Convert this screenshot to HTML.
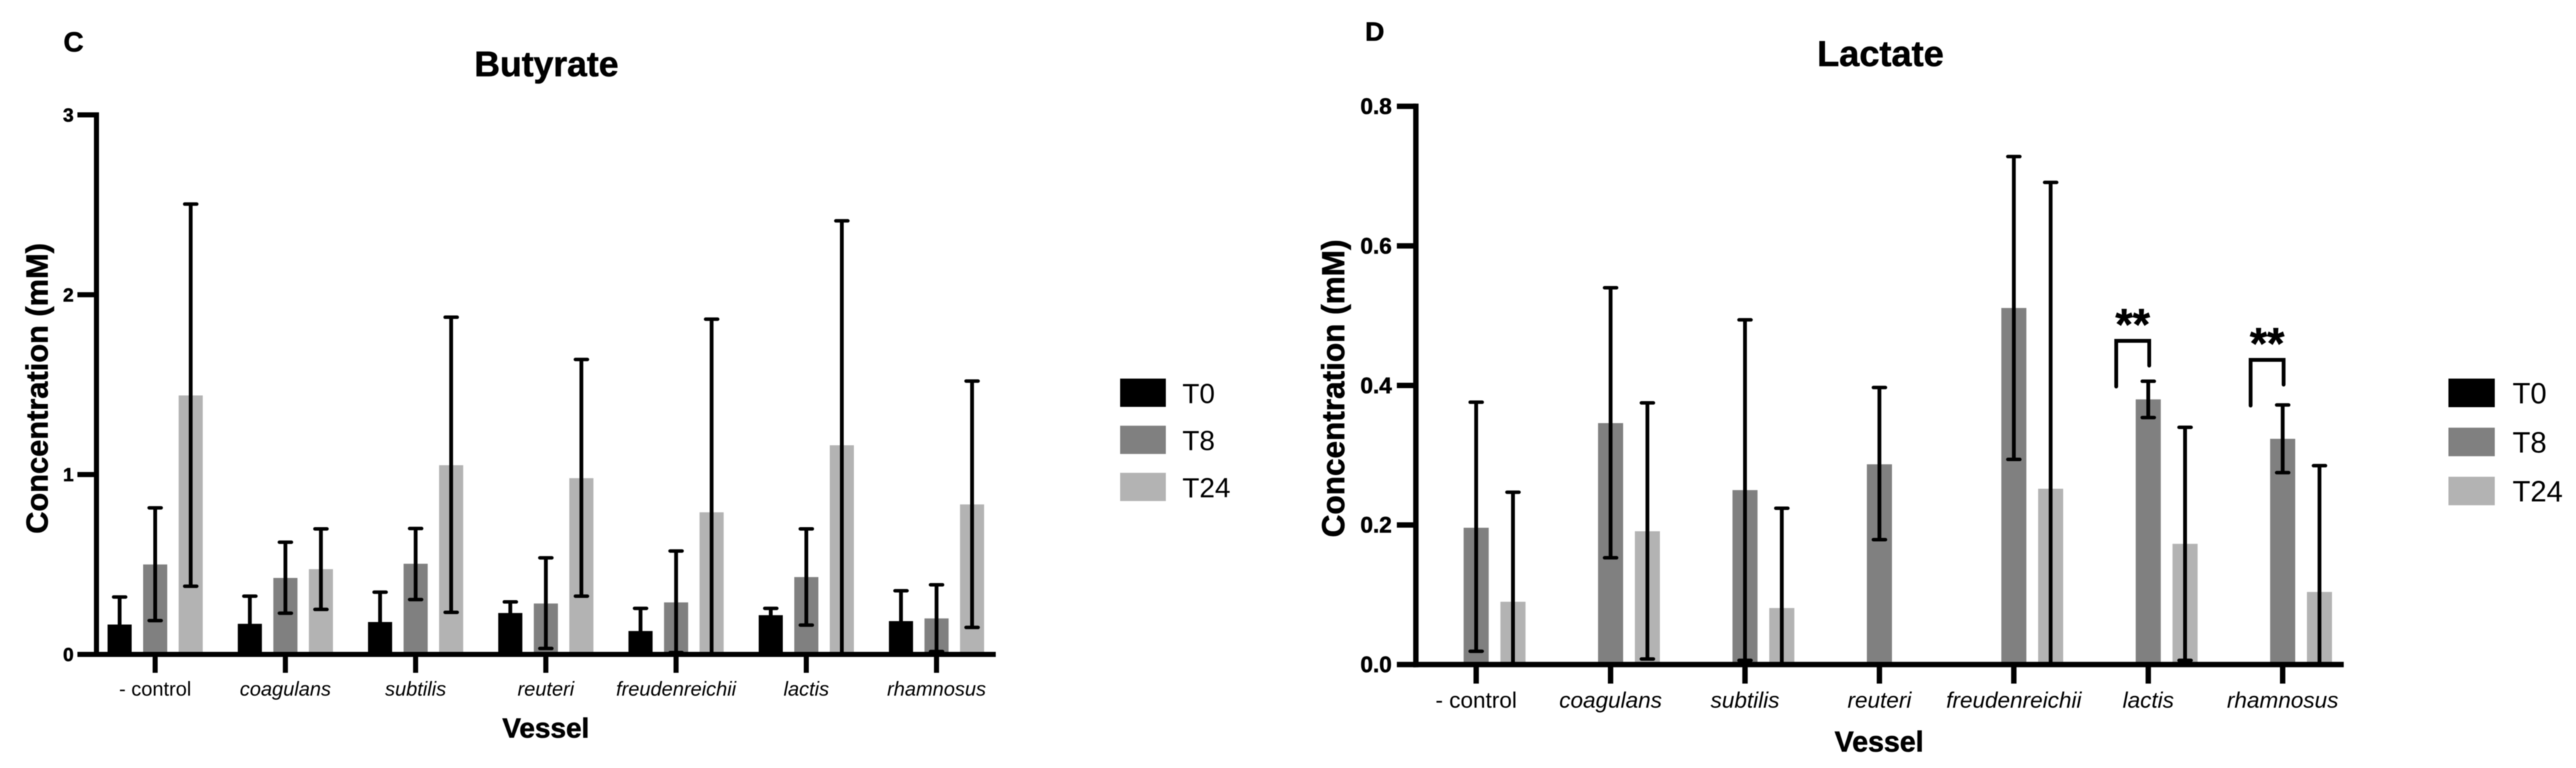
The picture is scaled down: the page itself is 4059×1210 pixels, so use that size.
<!DOCTYPE html>
<html lang="en">
<head>
<meta charset="utf-8">
<title>Butyrate and Lactate concentration by vessel</title>
<style>
html,body{margin:0;padding:0;background:#fff;width:4059px;height:1210px;overflow:hidden}
svg{display:block;filter:blur(0.7px)}
text{font-family:"Liberation Sans",Arial,sans-serif;fill:#000}
text.heavy{stroke:#000;stroke-width:0.8px}
</style>
</head>
<body>
<svg id="figure" xmlns="http://www.w3.org/2000/svg" width="4059" height="1210" viewBox="0 0 4059 1210"></svg>
<script>
const categories = ['- control','coagulans','subtilis','reuteri','freudenreichii','lactis','rhamnosus'];
const seriesNames = ['T0','T8','T24'];

const butyrateTicks = ['0','1','2','3'];
const butyrateT0 = [0.166,0.17,0.18,0.23,0.13,0.218,0.185];
const butyrateT8 = [0.50,0.425,0.504,0.283,0.289,0.43,0.20];
const butyrateT24 = [1.44,0.474,1.052,0.98,0.79,1.163,0.834];
const butyrateT0Hi = [0.319,0.324,0.346,0.292,0.256,0.256,0.354];
const butyrateT8Hi = [0.815,0.624,0.70,0.537,0.575,0.698,0.387];
const butyrateT24Hi = [2.504,0.698,1.875,1.64,1.864,2.411,1.52];
const butyrateT0Lo = [0.013,0.016,0.014,0.168,0.004,0.18,0.016];
const butyrateT8Lo = [0.188,0.229,0.305,0.033,0.01,0.163,0.016];
const butyrateT24Lo = [0.379,0.25,0.234,0.324,0,0,0.15];

const lactateTicks = ['0.0','0.2','0.4','0.6','0.8'];
const lactateT0 = [0,0,0,0,0,0,0];
const lactateT8 = [0.196,0.346,0.25,0.287,0.511,0.38,0.3235];
const lactateT24 = [0.09,0.191,0.081,0,0.252,0.173,0.104];
const lactateT0Hi = [0,0,0,0,0,0,0];
const lactateT8Hi = [0.376,0.54,0.494,0.397,0.728,0.406,0.372];
const lactateT24Hi = [0.247,0.375,0.224,0,0.691,0.34,0.285];
const lactateT0Lo = [0,0,0,0,0,0,0];
const lactateT8Lo = [0.019,0.153,0.006,0.179,0.294,0.354,0.275];
const lactateT24Lo = [0,0.008,0,0,0,0.006,0];

const lactateSigCategories = ['lactis','rhamnosus'];
const lactateSigLabels = ['**','**'];
const lactateSigTop = [0.4639,0.4366];

const svg = document.getElementById('figure');
const NS = 'http://www.w3.org/2000/svg';
const seriesColors = ['#000000','#808080','#b3b3b3'];

function mk(tag, attrs, parent) {
  const el = document.createElementNS(NS, tag);
  for (const k in attrs) el.setAttribute(k, attrs[k]);
  (parent || svg).appendChild(el);
  return el;
}

function label(str, x, y, size, opts, parent) {
  opts = opts || {};
  const t = mk('text', {
    'font-size': size,
    'font-weight': opts.weight || 'normal',
    'font-style': opts.style || 'normal',
    'text-anchor': opts.anchor || 'middle',
    transform: 'translate(' + x + ',' + y + ') rotate(' + (opts.rotate || 0) + ') scale(' + (opts.sx || 1) + ',' + (opts.sy || 1) + ')'
  }, parent);
  if (opts.weight === 'bold') t.setAttribute('class', 'heavy');
  t.textContent = str;
  return t;
}

function drawPanel(p) {
  const g = mk('g', {});
  
  

  const yScale = v => p.y0 - (v / p.yMax) * (p.y0 - p.yTop);
  const xScale = i => p.x0 + p.dx * i;

  const letter = label(p.letter, p.letterX, p.letterY, p.letterSize, {weight:'bold', anchor:'start'}, g);
  
  

  const title = label(p.title, p.titleX, p.titleY, p.titleSize, {weight:'bold'}, g);
  
  

  p.values.forEach((vals, s) => {
    vals.forEach((v, i) => {
      if (v <= 0) return;
      const cx = xScale(i) + (s - 1) * p.offset;
      const bar = mk('rect', {
        x: cx - p.barW / 2, y: yScale(v), width: p.barW, height: p.y0 - yScale(v),
        fill: seriesColors[s]
      }, g);
      
      
    });
  });

  p.values.forEach((vals, s) => {
    vals.forEach((v, i) => {
      const hi = p.hi[s][i];
      if (v <= 0 || hi <= 0) return;
      const lo = Math.max(0, p.lo[s][i]);
      const cx = xScale(i) + (s - 1) * p.offset;
      const eg = mk('g', {stroke:'#000', fill:'none'}, g);
      
      
      mk('line', {x1:cx, x2:cx, y1:yScale(hi), y2:yScale(lo), 'stroke-width':6}, eg);
      mk('line', {x1:cx-9.5, x2:cx+9.5, y1:yScale(hi), y2:yScale(hi), 'stroke-width':5.5, 'stroke-linecap':'round'}, eg);
      if (lo > 0) mk('line', {x1:cx-9.5, x2:cx+9.5, y1:yScale(lo), y2:yScale(lo), 'stroke-width':5.5, 'stroke-linecap':'round'}, eg);
    });
  });

  const half = p.axisW / 2;
  const yAxis = mk('rect', {x:p.axisX-half, y:p.yTop-half, width:p.axisW, height:p.y0-p.yTop+p.axisW, fill:'#000'}, g);
  
  

  const xAxis = mk('rect', {x:p.axisX-half, y:p.y0-half, width:p.axisEnd-p.axisX+half, height:p.axisW, fill:'#000'}, g);
  
  

  p.ticks.forEach(tick => {
    const ty = yScale(parseFloat(tick));
    const mark = mk('rect', {x:p.tickLeft, y:ty-half, width:p.axisX-p.tickLeft, height:p.axisW, fill:'#000'}, g);
    
    
    const tl = label(tick, p.tickLabelX, ty + p.tickLabelDy, p.tickSize, {weight:'bold', anchor:'end'}, g);
    
    
  });

  categories.forEach((c, i) => {
    const cx = xScale(i);
    const mark = mk('rect', {x:cx-half, y:p.y0, width:p.axisW, height:p.xTickLen, fill:'#000'}, g);
    
    
    const cl = label(c, cx, p.catY, p.catSize, {style: i === 0 ? 'normal' : 'italic'}, g);
    
    
  });

  const xt = label('Vessel', p.xTitleX, p.xTitleY, p.xTitleSize, {weight:'bold'}, g);
  
  

  const yt = label('Concentration (mM)', p.yTitleX, p.yTitleY, p.yTitleSize, {weight:'bold', rotate:-90}, g);
  
  

  seriesNames.forEach((n, s) => {
    const lg = mk('g', {}, g);
    
    
    mk('rect', {x:p.legendX, y:p.legendY + s * p.legendDy, width:p.legendW, height:p.legendH, fill:seriesColors[s]}, lg);
    label(n, p.legendTextX, p.legendY + s * p.legendDy + p.legendH - 6, p.legendSize, {anchor:'start'}, lg);
  });

  return {xScale, yScale, g};
}

const butyratePanel = drawPanel({
  name:'butyrate', letter:'C', letterX:100, letterY:81, letterSize:44,
  title:'Butyrate', titleX:861, titleY:120, titleSize:56,
  values:[butyrateT0,butyrateT8,butyrateT24], hi:[butyrateT0Hi,butyrateT8Hi,butyrateT24Hi], lo:[butyrateT0Lo,butyrateT8Lo,butyrateT24Lo],
  ticks:butyrateTicks, yMax:3, y0:1031, yTop:181, x0:244.5, dx:205.2, offset:56, barW:38,
  axisX:152, axisEnd:1569, axisW:8, tickLeft:122, tickLabelX:116, tickLabelDy:10.5, tickSize:30,
  xTickLen:29, catY:1096, catSize:31.5,
  xTitleX:860, xTitleY:1162, xTitleSize:44, yTitleX:75, yTitleY:612, yTitleSize:48.5,
  legendX:1765, legendY:596.5, legendDy:74.2, legendW:72, legendH:44.5, legendTextX:1863, legendSize:44
});

const lactatePanel = drawPanel({
  name:'lactate', letter:'D', letterX:2151, letterY:64, letterSize:42,
  title:'Lactate', titleX:2963, titleY:104, titleSize:57,
  values:[lactateT0,lactateT8,lactateT24], hi:[lactateT0Hi,lactateT8Hi,lactateT24Hi], lo:[lactateT0Lo,lactateT8Lo,lactateT24Lo],
  ticks:lactateTicks, yMax:0.8, y0:1047, yTop:167.5, x0:2326, dx:211.8, offset:58, barW:39.5,
  axisX:2231, axisEnd:3693, axisW:8.5, tickLeft:2201, tickLabelX:2193, tickLabelDy:12, tickSize:35.5,
  xTickLen:30, catY:1115, catSize:35.5,
  xTitleX:2961, xTitleY:1184, xTitleSize:45, yTitleX:2118, yTitleY:612, yTitleSize:49.7,
  legendX:3858, legendY:596.5, legendDy:77.3, legendW:73, legendH:45, legendTextX:3959, legendSize:46
});

lactateSigCategories.forEach((c, k) => {
  const i = categories.indexOf(c);
  const right = lactatePanel.xScale(i) + 1.5;
  const left = right - 52;
  const top = lactatePanel.yScale(lactateSigTop[k]);
  const leftFoot = lactatePanel.yScale(lactateSigTop[k] - 0.0655);
  const rightFoot = lactatePanel.yScale(lactateSigTop[k] - 0.0355);
  const bracket = mk('polyline', {
    points: left + ',' + leftFoot + ' ' + left + ',' + top + ' ' + right + ',' + top + ' ' + right + ',' + rightFoot,
    fill:'none', stroke:'#000', 'stroke-width':6, 'stroke-linecap':'round'
  }, lactatePanel.g);
  
  
  const star = label(lactateSigLabels[k], (left + right) / 2, top - 2, 70, {weight:'bold'}, lactatePanel.g);
  
  
});
</script>
</body>
</html>
